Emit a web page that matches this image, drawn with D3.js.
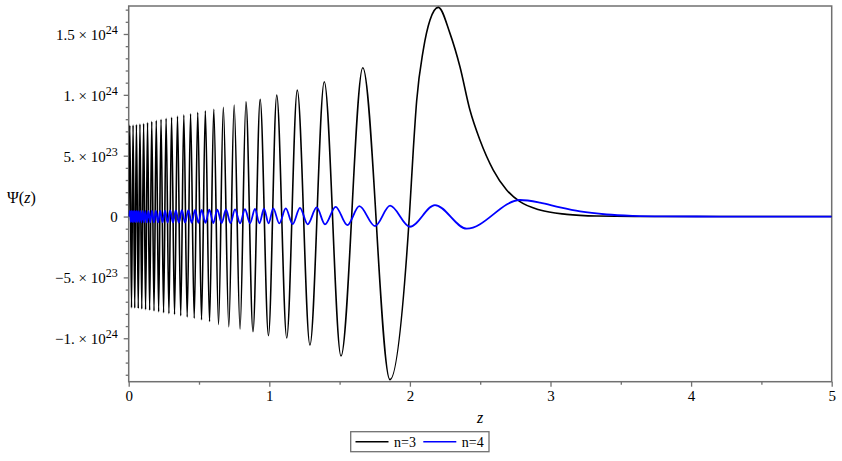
<!DOCTYPE html>
<html>
<head>
<meta charset="utf-8">
<script src="https://cdn.jsdelivr.net/npm/d3@7"></script>
<style>
  html, body { margin: 0; padding: 0; background: #fff; }
  svg { display: block; }
  svg text { font-family: "Liberation Serif", "Times New Roman", Times, "DejaVu Serif", serif !important; fill: #000; }
</style>
</head>
<body>
<svg id="chart" width="842" height="461"></svg>
<script>
// ---------- data (values in units of 1e23) ----------
const UNIT = 1e23;
const seriesNames = ["n=3", "n=4"];

// n = 3 (black)
const n3PeakZ = [0.008, 0.031, 0.055, 0.080, 0.106, 0.134, 0.164, 0.196, 0.230, 0.266, 0.305, 0.347, 0.392,
                 0.440, 0.491, 0.545, 0.605, 0.673, 0.750, 0.834, 0.935, 1.053, 1.199, 1.391, 1.665, 2.202];
const n3PeakV = [7.5, 7.52, 7.55, 7.6, 7.65, 7.72, 7.8, 7.9, 8.0, 8.08, 8.16, 8.25, 8.35,
                 8.45, 8.56, 8.68, 8.82, 8.97, 9.16, 9.43, 9.63, 9.98, 10.39, 11.08, 12.23, 17.19];
const n3TroughZ = [0.020, 0.043, 0.068, 0.093, 0.120, 0.149, 0.180, 0.213, 0.248, 0.286, 0.326, 0.370, 0.416,
                   0.466, 0.518, 0.575, 0.639, 0.712, 0.792, 0.884, 0.994, 1.124, 1.289, 1.510, 1.858];
const n3TroughV = [-7.5, -7.52, -7.55, -7.6, -7.65, -7.7, -7.76, -7.83, -7.9, -7.98, -8.06, -8.15, -8.25,
                   -8.36, -8.48, -8.62, -8.86, -9.05, -9.24, -9.46, -9.79, -9.98, -10.56, -11.46, -13.4];
const n3OtherZ = [0, 1.996, 2.024, 2.048, 2.095, 2.143, 2.285, 2.356, 2.427, 2.498, 2.593, 2.688, 2.783, 2.925, 3.115, 3.33, 3.6, 5.0];
const n3OtherV = [0, 0, 5.46, 9.49, 13.68, 16.15, 15.05, 12.31, 8.75, 6.29, 3.82, 2.18, 1.22, 0.53, 0.18, 0.04, 0.005, 0];

// n = 4 (blue)
const n4PeakZ = [0.009, 0.020, 0.031, 0.042, 0.054, 0.067, 0.082, 0.099, 0.118, 0.140, 0.165, 0.193, 0.224,
                 0.258, 0.295, 0.335, 0.378, 0.424, 0.472, 0.519, 0.573, 0.630, 0.692, 0.756, 0.827, 0.898,
                 0.962, 1.028, 1.117, 1.218, 1.337, 1.472, 1.640, 1.859, 2.178, 2.783];
const n4PeakV = [0.46, 0.46, 0.46, 0.46, 0.46, 0.46, 0.47, 0.47, 0.47, 0.47, 0.48, 0.48, 0.48,
                 0.49, 0.5, 0.51, 0.52, 0.53, 0.54, 0.55, 0.56, 0.57, 0.58, 0.59, 0.6, 0.62,
                 0.64, 0.67, 0.67, 0.72, 0.75, 0.8, 0.86, 0.89, 0.94, 1.36];
const n4TroughZ = [0.015, 0.026, 0.037, 0.048, 0.061, 0.075, 0.091, 0.109, 0.129, 0.153, 0.179, 0.209, 0.241,
                   0.277, 0.315, 0.357, 0.401, 0.448, 0.496, 0.546, 0.602, 0.661, 0.724, 0.792, 0.863, 0.930,
                   0.995, 1.071, 1.166, 1.273, 1.396, 1.555, 1.752, 2.000, 2.404];
const n4TroughV = [-0.46, -0.46, -0.46, -0.46, -0.46, -0.46, -0.47, -0.47, -0.47, -0.47, -0.48, -0.48, -0.48,
                   -0.49, -0.49, -0.5, -0.5, -0.51, -0.52, -0.52, -0.53, -0.54, -0.54, -0.55, -0.55, -0.55,
                   -0.56, -0.56, -0.62, -0.64, -0.64, -0.70, -0.78, -0.84, -1.0];
const n4OtherZ = [0, 2.925, 3.068, 3.21, 3.40, 3.589, 3.8, 4.2, 5.0];
const n4OtherV = [0, 1.15, 0.75, 0.42, 0.17, 0.06, 0.015, 0, 0];

// axes
const xTicks = [0, 1, 2, 3, 4, 5];
const xMinorTicks = [0.5, 1.5, 2.5, 3.5, 4.5];
const yTicks = [-1e24, -5e23, 0, 5e23, 1e24, 1.5e24];
const yMinorTicks = [-1.3e24, -1.2e24, -1.1e24, -9e23, -8e23, -7e23, -6e23, -4e23, -3e23, -2e23, -1e23,
                     1e23, 2e23, 3e23, 4e23, 6e23, 7e23, 8e23, 9e23, 1.1e24, 1.2e24, 1.3e24, 1.4e24, 1.6e24, 1.7e24];
const xDomain = [0, 5];
const yDomain = [-1.357e24, 1.730e24];

// ---------- build ----------
function build(pz, pv, tz, tv, oz, ov) {
  const pts = [];
  pz.forEach((z, i) => pts.push([z, pv[i] * UNIT]));
  tz.forEach((z, i) => pts.push([z, tv[i] * UNIT]));
  oz.forEach((z, i) => pts.push([z, ov[i] * UNIT]));
  pts.sort((a, b) => a[0] - b[0]);
  return pts;
}
const n3 = build(n3PeakZ, n3PeakV, n3TroughZ, n3TroughV, n3OtherZ, n3OtherV);
const n4 = build(n4PeakZ, n4PeakV, n4TroughZ, n4TroughV, n4OtherZ, n4OtherV);

const SERIF = '"Liberation Serif", "Times New Roman", Times, "DejaVu Serif", serif';
const L = 128.7, R = 831.7, T = 6, B = 381.7;
const svg = d3.select("#chart");
const x = d3.scaleLinear().domain(xDomain).range([L, R]);
const y = d3.scaleLinear().domain(yDomain).range([B, T]);
const axisColor = "#707070";

// minor ticks
svg.append("g").attr("transform", `translate(0,${B})`)
  .call(d3.axisBottom(x).tickValues(xMinorTicks).tickSize(3).tickFormat(""))
  .call(g => g.select(".domain").remove())
  .call(g => g.selectAll("line").attr("stroke", axisColor).attr("stroke-width", 1.3));
svg.append("g").attr("transform", `translate(${L},0)`)
  .call(d3.axisLeft(y).tickValues(yMinorTicks).tickSize(3).tickFormat(""))
  .call(g => g.select(".domain").remove())
  .call(g => g.selectAll("line").attr("stroke", axisColor).attr("stroke-width", 1.3));

// major x axis
svg.append("g").attr("transform", `translate(0,${B})`)
  .call(d3.axisBottom(x).tickValues(xTicks).tickSize(5).tickPadding(4).tickFormat(d3.format("d")))
  .attr("font-family", null).attr("font-size", null)
  .call(g => g.select(".domain").remove())
  .call(g => g.selectAll("line").attr("stroke", axisColor).attr("stroke-width", 1.3))
  .call(g => g.selectAll("text").style("font-size", "15px").style("font-family", SERIF).attr("fill", "#000"));

// major y axis with superscript labels
function mantissa(m) { return Number.isInteger(m) ? m + "." : String(m); }
svg.append("g").attr("transform", `translate(${L},0)`)
  .call(d3.axisLeft(y).tickValues(yTicks).tickSize(5).tickPadding(6).tickFormat(""))
  .attr("font-family", null).attr("font-size", null)
  .call(g => g.select(".domain").remove())
  .call(g => g.selectAll("line").attr("stroke", axisColor).attr("stroke-width", 1.3))
  .call(g => g.selectAll(".tick text").each(function(d) {
      const t = d3.select(this).style("font-size", "15px").style("font-family", SERIF)
        .attr("fill", "#000").attr("x", -11).attr("dy", "0.36em");
      if (d === 0) { t.text("0"); return; }
      const e = Math.floor(Math.log10(Math.abs(d)) + 1e-9);
      const m = Math.round(Math.abs(d) / Math.pow(10, e) * 10) / 10;
      t.append("tspan").text((d < 0 ? "\u2212" : "") + mantissa(m) + " \u00d7 10");
      t.append("tspan").style("font-size", "12px").attr("dy", "-6").text(e);
  }));

// frame
svg.append("rect").attr("x", L).attr("y", T).attr("width", R - L).attr("height", B - T)
  .attr("fill", "none").attr("stroke", axisColor).attr("stroke-width", 1.5);

// clip
svg.append("clipPath").attr("id", "clip").append("rect")
  .attr("x", L).attr("y", T - 2).attr("width", R - L).attr("height", B - T + 4);

const line = d3.line().x(d => x(d[0])).y(d => y(d[1])).curve(d3.curveMonotoneX);
const plot = svg.append("g").attr("clip-path", "url(#clip)");
plot.append("path").datum(n3).attr("d", line).attr("fill", "none").attr("stroke", "#000").attr("stroke-width", 1.6);
plot.append("path").datum(n4).attr("d", line).attr("fill", "none").attr("stroke", "#0000ff").attr("stroke-width", 1.8);

// axis labels
svg.append("text").attr("x", (L + R) / 2).attr("y", 423).attr("text-anchor", "middle")
  .style("font-size", "16px").style("font-style", "italic").style("font-family", SERIF).text("z");
const yl = svg.append("text").attr("x", 7).attr("y", 203).style("font-size", "16px").style("font-family", SERIF);
yl.append("tspan").text("\u03a8(");
yl.append("tspan").style("font-style", "italic").text("z");
yl.append("tspan").text(")");

// legend
const lg = svg.append("g");
lg.append("rect").attr("x", 350.7).attr("y", 431.7).attr("width", 138.3).attr("height", 20)
  .attr("fill", "#fff").attr("stroke", axisColor).attr("stroke-width", 1.3);
const legendColors = ["#000", "#0000ff"];
const legendX = [355.5, 423.3];
seriesNames.forEach((name, i) => {
  lg.append("line").attr("x1", legendX[i]).attr("x2", legendX[i] + 33).attr("y1", 441.7).attr("y2", 441.7)
    .attr("stroke", legendColors[i]).attr("stroke-width", 1.4);
  lg.append("text").attr("x", legendX[i] + 38.5).attr("y", 446.5).style("font-size", "14px")
    .style("font-family", SERIF).text(name);
});
</script>
</body>
</html>
